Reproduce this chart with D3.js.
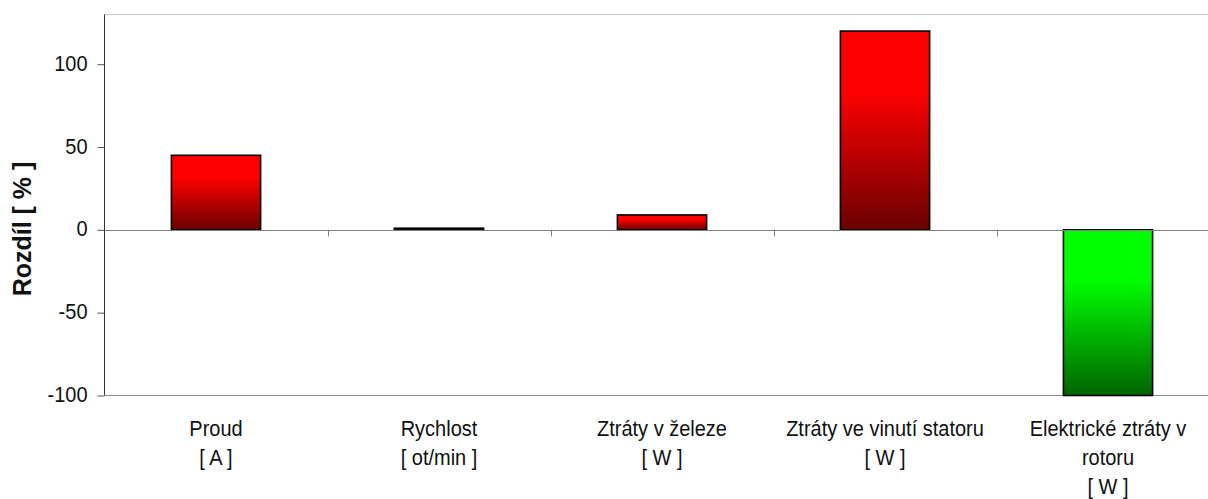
<!DOCTYPE html>
<html>
<head>
<meta charset="utf-8">
<script src="https://cdn.jsdelivr.net/npm/d3@7"></script>
<style>
  html, body { margin: 0; padding: 0; background: #fff; }
  svg { display: block; font-family: "Liberation Sans", Arial, sans-serif; }
</style>
</head>
<body>
<svg id="chart" width="1208" height="499"></svg>
<script>
// Categories (each label split into its printed lines)
const categories = ["Proud", "Rychlost", "Ztráty v železe", "Ztráty ve vinutí statoru", "Elektrické ztráty v rotoru"];
const categoryLines = [
  ["Proud", "[ A ]"],
  ["Rychlost", "[ ot/min ]"],
  ["Ztráty v železe", "[ W ]"],
  ["Ztráty ve vinutí statoru", "[ W ]"],
  ["Elektrické ztráty v", "rotoru", "[ W ]"]
];
// Difference in percent
const values = [45, 1, 9, 120, -100];
const yTicks = [-100, -50, 0, 50, 100];
const yDomain = [-100, 130];

const svg = d3.select("#chart");
const plotLeft = 104.5, plotTop = 14.5, plotBottom = 395.5;
const step = 223;
const plotRight = plotLeft + step * categories.length;

const y = d3.scaleLinear().domain(yDomain).range([plotBottom, plotTop]);
const xBand = d3.scaleBand().domain(categories).range([plotLeft, plotRight]).paddingInner(0.6).paddingOuter(0.3);
const xCat = d3.scaleBand().domain(categories).range([plotLeft, plotRight]).padding(0);

// Gradients
const defs = svg.append("defs");
function grad(id, c1, c2) {
  const g = defs.append("linearGradient").attr("id", id)
    .attr("x1", 0).attr("y1", 0).attr("x2", 0).attr("y2", 1);
  g.append("stop").attr("offset", "0%").attr("stop-color", c1);
  g.append("stop").attr("offset", "30%").attr("stop-color", c1);
  g.append("stop").attr("offset", "100%").attr("stop-color", c2);
}
grad("gRed", "#ff0000", "#6a0000");
grad("gGreen", "#00ff00", "#006400");

// Plot frame
svg.append("line").attr("x1", plotLeft).attr("x2", 1208).attr("y1", plotTop).attr("y2", plotTop)
  .attr("stroke", "#c8c8c8").attr("stroke-width", 1);
svg.append("line").attr("x1", plotLeft).attr("x2", 1208).attr("y1", plotBottom).attr("y2", plotBottom)
  .attr("stroke", "#8a8a8a").attr("stroke-width", 1.2);

// Bars
const zero = y(0);
svg.append("g").selectAll("rect").data(values).join("rect")
  .attr("x", (d, i) => xBand(categories[i]))
  .attr("width", xBand.bandwidth())
  .attr("y", d => Math.min(y(d), zero))
  .attr("height", d => Math.abs(y(d) - zero))
  .attr("fill", d => d < 0 ? "url(#gGreen)" : "url(#gRed)")
  .attr("stroke", "#000").attr("stroke-width", 1.6);

// Zero line with category ticks
svg.append("line").attr("x1", plotLeft).attr("x2", 1208).attr("y1", Math.round(zero) + 0.5).attr("y2", Math.round(zero) + 0.5)
  .attr("stroke", "#808080").attr("stroke-width", 1.2);
svg.append("g").selectAll("line").data(categories.slice(1)).join("line")
  .attr("x1", d => Math.round(xCat(d)) + 0.5).attr("x2", d => Math.round(xCat(d)) + 0.5)
  .attr("y1", Math.round(zero) + 0.5).attr("y2", Math.round(zero) + 6.5)
  .attr("stroke", "#808080");

// Y axis (plain hyphen for negative numbers)
const yAxis = svg.append("g").attr("transform", `translate(${plotLeft},0)`)
  .call(d3.axisLeft(y).tickValues(yTicks).tickFormat(d => String(d))
    .tickSize(7).tickSizeOuter(0).tickPadding(10));
yAxis.select(".domain").attr("stroke", "#333").attr("d", `M0,${plotTop}V${plotBottom}`);
yAxis.selectAll(".tick line").attr("stroke", "#555");
yAxis.selectAll(".tick text")
  .attr("font-size", 20).attr("fill", "#111").attr("font-family", "Liberation Sans, Arial, sans-serif")
  .attr("dy", null).attr("y", 0)
  .attr("transform", "translate(0,6) scale(1,1.12)");

// Y axis title
svg.append("text")
  .attr("transform", "translate(31,229) rotate(-90)")
  .attr("text-anchor", "middle")
  .attr("font-size", 25).attr("font-weight", "bold").attr("fill", "#111")
  .text("Rozdíl [ % ]");

// Category labels
const lab = svg.append("g");
categoryLines.forEach((lines, i) => {
  const cx = xCat(categories[i]) + xCat.bandwidth() / 2;
  lines.forEach((t, j) => {
    lab.append("text")
      .attr("transform", `translate(${cx},${436 + j * 29}) scale(1,1.12)`)
      .attr("text-anchor", "middle")
      .attr("font-size", 20).attr("fill", "#111")
      .text(t);
  });
});
</script>
</body>
</html>
